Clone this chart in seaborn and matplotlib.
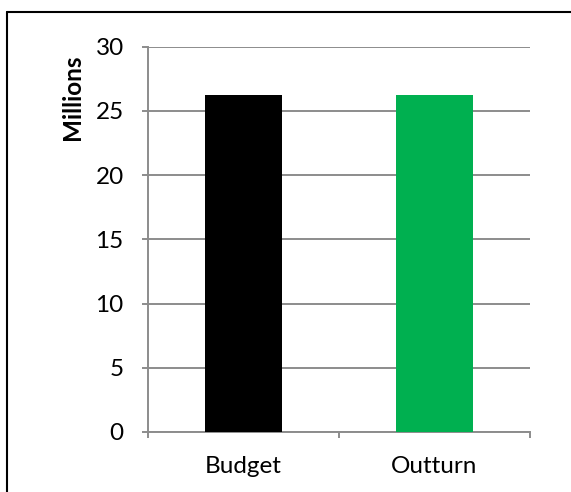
import matplotlib
matplotlib.use("Agg")
import matplotlib.pyplot as plt
import seaborn as sns
import pandas as pd
from matplotlib.lines import Line2D

categories = ["Budget", "Outturn"]
values = [26.2, 26.2]
colors = ["#000000", "#00B050"]
yticks = [0, 5, 10, 15, 20, 25, 30]

sns.set_theme(style="white")
plt.rcParams['font.family'] = ['Lato', 'DejaVu Sans']

W, H = 571, 492
fig = plt.figure(figsize=(W / 100, H / 100), dpi=100)
ax = fig.add_axes([148 / W, 1 - 432 / H, (530 - 148) / W, (432 - 46.5) / H])

df = pd.DataFrame({"cat": categories, "val": values})
sns.barplot(data=df, x="cat", y="val", hue="cat", palette=colors,
            width=0.4, saturation=1, legend=False, ax=ax, zorder=3,
            linewidth=0, edgecolor="none")

ax.set_ylim(0, 30)
ax.set_xlim(-0.5, 1.5)
ax.set_yticks(yticks)
ax.set_yticklabels([str(t) for t in yticks])
ax.set_xlabel("")
ax.set_ylabel("")
grid_c = "#8c8c8c"
ax.yaxis.grid(True, color=grid_c, linewidth=1.4, zorder=0)
ax.set_axisbelow(True)
for s in ["top", "right"]:
    ax.spines[s].set_visible(False)
for s in ["left", "bottom"]:
    ax.spines[s].set_color(grid_c)
    ax.spines[s].set_linewidth(1.4)

ax.set_xticks([-0.5, 0.5, 1.5], minor=False)
ax.set_xticklabels(["", "", ""])
ax.set_xticks([0, 1], minor=True)
ax.set_xticklabels(categories, minor=True)
ax.tick_params(axis="x", which="major", direction="out", length=4.5, width=1.4,
               color=grid_c, bottom=True)
ax.tick_params(axis="x", which="minor", length=0, pad=17, labelsize=17.5, labelcolor="black")
ax.tick_params(axis="y", direction="out", length=4.5, width=1.4, color=grid_c,
               left=True, pad=13, labelsize=17.5, labelcolor="black")

fig.text(72 / W, 1 - 97 / H, "Millions", rotation=90, ha="center", va="center",
         fontsize=17.5, fontweight="bold", color="black")

lw = 1.5
fig.add_artist(Line2D([7 / W, 1.01], [1 - 12 / H, 1 - 12 / H], color="black",
                      linewidth=lw, transform=fig.transFigure))
fig.add_artist(Line2D([7 / W, 7 / W], [1 - 12 / H, -0.01], color="black",
                      linewidth=lw, transform=fig.transFigure))

fig.savefig("out.png", dpi=100)
